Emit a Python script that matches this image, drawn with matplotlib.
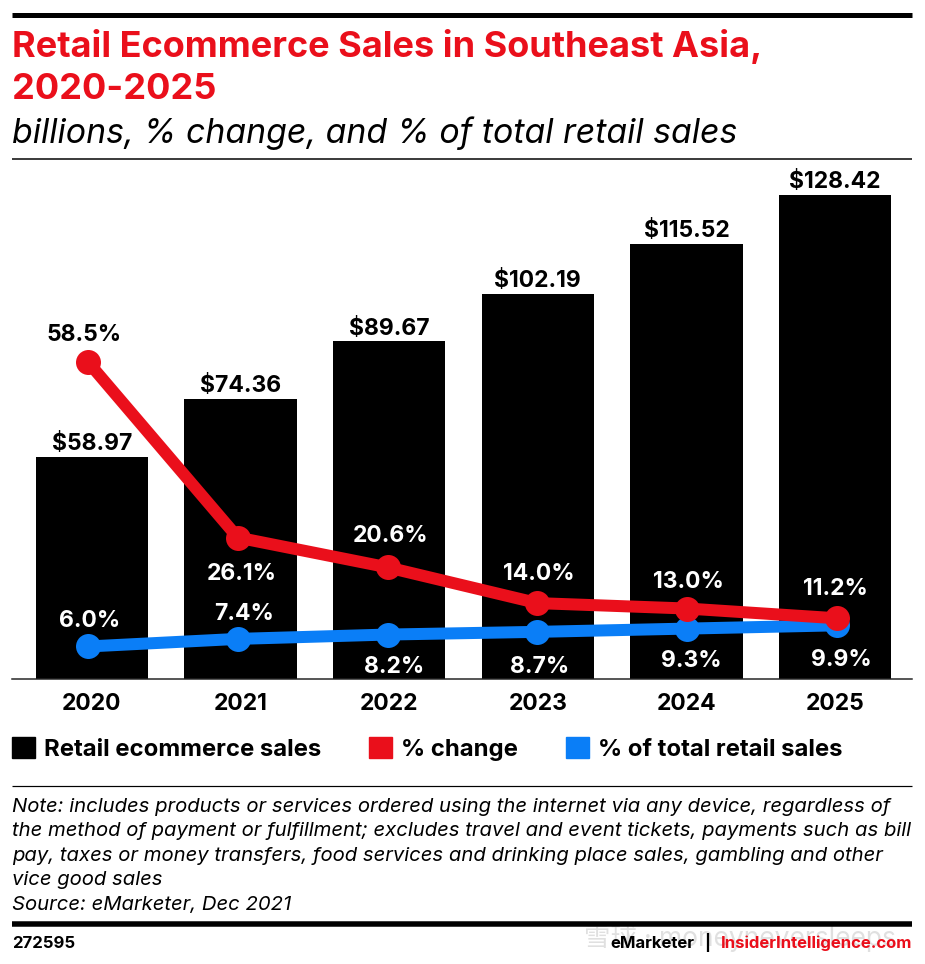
import matplotlib
matplotlib.use("Agg")
import matplotlib.pyplot as plt
from matplotlib.lines import Line2D
from matplotlib.patches import Patch

years = ["2020", "2021", "2022", "2023", "2024", "2025"]
sales = [58.97, 74.36, 89.67, 102.19, 115.52, 128.42]
pct_change = [58.5, 26.1, 20.6, 14.0, 13.0, 11.2]
pct_retail = [6.0, 7.4, 8.2, 8.7, 9.3, 9.9]

# label offsets from the marker, in pixels
change_off = [(-4, 27), (4, -36), (3, 31), (1, 29), (1, 27), (-2, 29)]
retail_off = [(2, 25), (6, 25), (7, -32), (2, -35), (4, -32), (4, -35)]

RED = "#EA0F1B"
BLUE = "#0A7EF7"
W, H = 925, 964
PX = 72 / 100  # points per pixel at dpi 100
FONT = "Inter"

plt.rcParams["font.family"] = [FONT, "Noto Sans CJK SC", "DejaVu Sans"]

fig = plt.figure(figsize=(W / 100, H / 100), dpi=100)


def fx(x):
    return x / W


def fy(y):
    return 1 - y / H


def rule(y, lw, x0=12, x1=912, color="black"):
    fig.add_artist(Line2D([fx(x0), fx(x1)], [fy(y), fy(y)], color=color, lw=lw * PX,
                          solid_capstyle="butt"))


def label(x, y, s, **kw):
    fig.text(fx(x), fy(y), s, va="baseline", **kw)


rect = [fx(12), fy(679), fx(900), 519 / H]

# bars
ax = fig.add_axes(rect)
ax.bar(range(6), sales, width=0.757, color="black")
ax.set_xlim(-0.538, 5.518)
ax.set_ylim(0, 137.7)
ax.set_yticks([])
ax.set_xticks(range(6), years, fontsize=16.5, fontweight="bold")
ax.tick_params(axis="x", length=0, pad=10)
for s in ["top", "left", "right"]:
    ax.spines[s].set_visible(False)
ax.spines["bottom"].set_linewidth(1.5 * PX)
ax.spines["bottom"].set_color("#222222")
ax.patch.set_visible(False)
for i, v in enumerate(sales):
    ax.annotate(f"${v:.2f}", (i, v), xytext=(0, 1.5 * PX), textcoords="offset points",
                ha="center", va="bottom", fontsize=16.5, fontweight="bold")

# lines, drawn on their own overlay axes
ax2 = fig.add_axes(rect)
ax2.set_xlim(-0.507, 5.5)
ax2.set_ylim(0, 519 / 5.42)
ax2.axis("off")
ax2.plot(range(6), pct_retail, color=BLUE, lw=12 * PX, marker="o", ms=25 * PX, mew=0,
         solid_capstyle="round", zorder=3)
ax2.plot(range(6), pct_change, color=RED, lw=12 * PX, marker="o", ms=25 * PX, mew=0,
         solid_capstyle="round", zorder=4)

for i, v in enumerate(pct_change):
    dx, dy = change_off[i]
    ax2.annotate(f"{v:.1f}%", (i, v), xytext=(dx * PX, dy * PX), textcoords="offset points",
                 ha="center", va="center", fontsize=16.5, fontweight="bold",
                 color="black" if i == 0 else "white", zorder=5)
for i, v in enumerate(pct_retail):
    dx, dy = retail_off[i]
    ax2.annotate(f"{v:.1f}%", (i, v), xytext=(dx * PX, dy * PX), textcoords="offset points",
                 ha="center", va="center", fontsize=16.5, fontweight="bold", color="white", zorder=5)

# header
rule(14.5, 5)
label(12, 57, "Retail Ecommerce Sales in Southeast Asia,", fontsize=26, fontweight="bold", color=RED)
label(12, 99, "2020-2025", fontsize=26, fontweight="bold", color=RED)
label(12, 143, "billions, % change, and % of total retail sales", fontsize=24.4, style="italic", color="black")
rule(159, 1.5)

# legend
handles = [Patch(color="black"), Patch(color=RED), Patch(color=BLUE)]
fig.legend(handles, ["Retail ecommerce sales", "% change", "% of total retail sales"],
           loc="upper left", bbox_to_anchor=(fx(12), fy(737)), ncol=3, frameon=False,
           prop={"size": 17.2, "weight": "bold"}, borderpad=0, borderaxespad=0,
           handlelength=0.96, handleheight=0.96, handletextpad=0.38, columnspacing=2.0)

# note
rule(786, 1.2)
notes = [
    "Note: includes products or services ordered using the internet via any device, regardless of",
    "the method of payment or fulfillment; excludes travel and event tickets, payments such as bill",
    "pay, taxes or money transfers, food services and drinking place sales, gambling and other",
    "vice good sales",
    "Source: eMarketer, Dec 2021",
]
for i, line in enumerate(notes):
    label(12, 812 + i * 24.4, line, fontsize=14.6, style="italic")

# footer
rule(923.5, 5.5)
label(12, 948, "272595", fontsize=12, fontweight="bold")
label(912, 948, "InsiderIntelligence.com", fontsize=12, fontweight="bold", color=RED, ha="right")
label(707, 948, "|", fontsize=12, fontweight="bold", ha="center")
label(694, 948, "eMarketer", fontsize=12, fontweight="bold", ha="right")
label(584, 946, "雪球 · moneyneversleeps", fontsize=19, color="#CCCCCC", alpha=0.6, zorder=0)

fig.savefig("out.png", dpi=100)
